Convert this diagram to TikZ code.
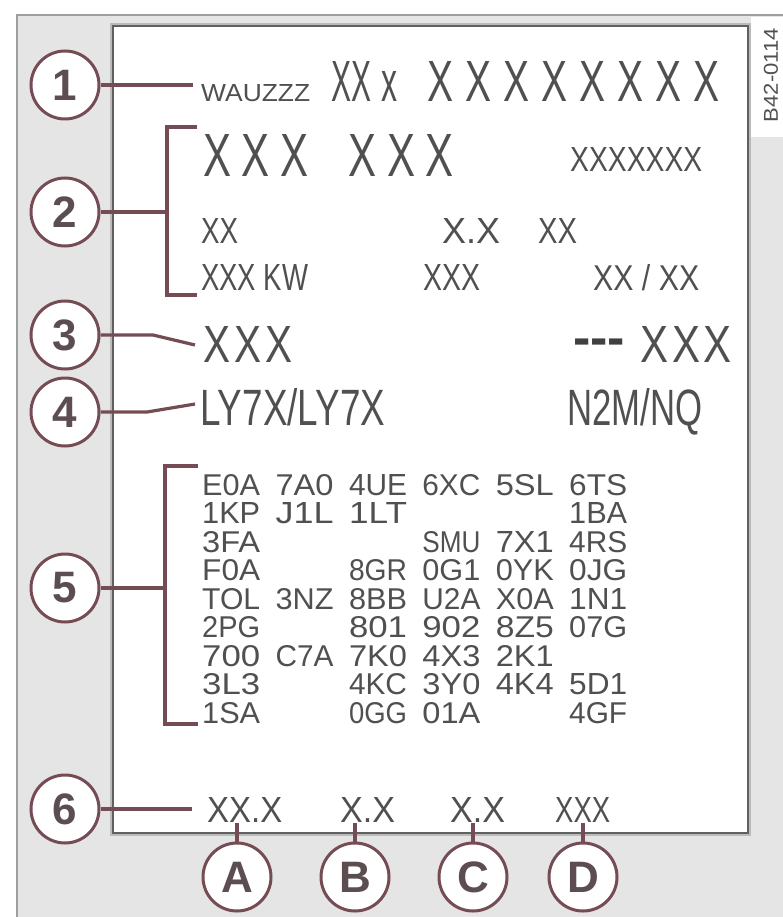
\documentclass[tikz,border=0pt]{standalone}
\usepackage{fontspec}
\setmainfont{Liberation Sans}
\usepackage{graphicx}
\usepackage{xcolor}
\definecolor{ink}{RGB}{80,80,80}
\definecolor{callred}{RGB}{118,76,84}
\definecolor{numink}{RGB}{92,78,80}
\definecolor{panel}{RGB}{229,229,229}
\definecolor{rim}{RGB}{158,158,158}
\definecolor{frame}{RGB}{96,96,96}
\newcommand{\fit}[3]{\resizebox{#1pt}{#2pt}{#3}}

\begin{document}
\begin{tikzpicture}[x=1pt,y=-1pt,
  txt/.style={anchor=base west,inner sep=0pt,text=ink},
  callout/.style={circle,draw=callred,line width=3pt,fill=white,minimum size=68pt,inner sep=0pt,
    text=numink,font=\fontsize{44}{44}\selectfont\bfseries},
  leader/.style={draw=callred,line width=3.2pt}]
  \useasboundingbox (0,0) rectangle (783,917);
  \fill[white] (0,0) rectangle (783,917);
  % grey card and plate
  \fill[panel] (17,15) rectangle (783,917);
  \draw[rim,line width=1.5pt] (783,15) -- (17,15) -- (17,917);
  \fill[white] (751,17) rectangle (783,137);
  \node[rotate=90,inner sep=0pt,text=ink] (ref) at (771,75) {\fit{94}{14}{B42-0114}};
  \draw[rim!70,line width=2pt] (111,24) rectangle (750,835);
  \draw[frame,line width=2pt,fill=white] (113,26) rectangle (748,833);

  % row 1
  \node[txt] (wmi) at (201,102) {\fit{109}{17}{WAUZZZ}};
  \node[txt] (vds) at (331,102) {\fit{40}{40}{XX}\kern10pt\fit{16}{30}{x}};
  \foreach \i in {0,...,7}
    \node[txt] (vin\i) at (427+38.1*\i,102) {\fit{26}{40}{X}};
  % row 2
  \foreach \x [count=\i] in {203,241,280,348,387,425}
    \node[txt] (typ\i) at (\x,177) {\fit{28}{42}{X}};
  \node[txt] (typc) at (570,172) {\fit{132}{24}{XXXXXXX}};
  \node[txt] (eng) at (201,243) {\fit{37}{25}{XX}};
  \node[txt] (disp) at (442,243) {\fit{58}{25}{X.X}};
  \node[txt] (cyl) at (538,243) {\fit{39}{25}{XX}};
  \node[txt] (pwr) at (201,290) {\fit{107}{26}{XXX KW}};
  \node[txt] (wgt) at (423,290) {\fit{57}{26}{XXX}};
  \node[txt] (emi) at (593,290) {\fit{106}{26}{XX / XX}};
  % row 3
  \foreach \x [count=\i] in {203,234,265}
    \node[txt] (eg\i) at (\x,362) {\fit{27}{36}{X}};
  \node[txt,text=ink!80!black,font=\fontsize{52}{52}\selectfont\bfseries] (dash) at (573,362) {\raisebox{7pt}{-{}-{}-}};
  \foreach \x [count=\i] in {640,672,703}
    \node[txt] (gb\i) at (\x,362) {\fit{28}{36}{X}};
  % row 4
  \node[txt] (paint) at (200,425) {\fit{185}{37}{LY7X/LY7X}};
  \node[txt] (trim) at (567,425) {\fit{135}{37}{N2M/NQ}};
  % option codes
  \foreach \r/\cells in {
      0/{1/E0A,2/7A0,3/4UE,4/6XC,5/5SL,6/6TS},
      1/{1/1KP,2/J1L,3/1LT,6/1BA},
      2/{1/3FA,4/SMU,5/7X1,6/4RS},
      3/{1/F0A,3/8GR,4/0G1,5/0YK,6/0JG},
      4/{1/TOL,2/3NZ,3/8BB,4/U2A,5/X0A,6/1N1},
      5/{1/2PG,3/801,4/902,5/8Z5,6/07G},
      6/{1/700,2/C7A,3/7K0,4/4X3,5/2K1},
      7/{1/3L3,3/4KC,4/3Y0,5/4K4,6/5D1},
      8/{1/1SA,3/0GG,4/01A,6/4GF}}
    \foreach \c/\code in \cells
      \node[txt] (o\r\c) at ({202+73.4*(\c-1)},{495+28.5*\r}) {\fit{58}{21}{\code}};
  % row 6
  \node[txt] (cons) at (207,822) {\fit{75}{25}{XX.X}};
  \node[txt] (cb) at (340,822) {\fit{55}{25}{X.X}};
  \node[txt] (cc) at (450,822) {\fit{55}{25}{X.X}};
  \node[txt] (cd) at (555,822) {\fit{55}{25}{XXX}};

  % callouts
  \node[callout] (n1) at (65,85) {1};
  \node[callout] (n2) at (65,212) {2};
  \node[callout] (n3) at (65,335) {3};
  \node[callout] (n4) at (65,412) {4};
  \node[callout] (n5) at (65,588) {5};
  \node[callout] (n6) at (65,809) {6};
  \coordinate (e1) at (193,85);
  \draw[leader] (n1) -- (e1);
  \coordinate (b2) at (167,212);
  \coordinate (b2t) at (197,127);
  \coordinate (b2b) at (197,295);
  \draw[leader] (n2) -- (b2);
  \draw[leader] (b2t) -| (b2) |- (b2b);
  \coordinate (k3) at (153,335);
  \coordinate (e3) at (195,345);
  \draw[leader] (n3) -- (k3) -- (e3);
  \coordinate (k4) at (147,412);
  \coordinate (e4) at (195,404);
  \draw[leader] (n4) -- (k4) -- (e4);
  \coordinate (b5) at (165,588);
  \coordinate (b5t) at (198,466);
  \coordinate (b5b) at (198,724);
  \draw[leader] (n5) -- (b5);
  \draw[leader] (b5t) -| (b5) |- (b5b);
  \coordinate (e6) at (192,809);
  \draw[leader] (n6) -- (e6);
  \foreach \l/\x in {A/237,B/355,C/473,D/583} {
    \node[callout] (n\l) at (\x,877) {\l};
    \coordinate (t\l) at (\x,823);
    \draw[leader] (t\l) -- (n\l);
  }
\end{tikzpicture}
\end{document}
